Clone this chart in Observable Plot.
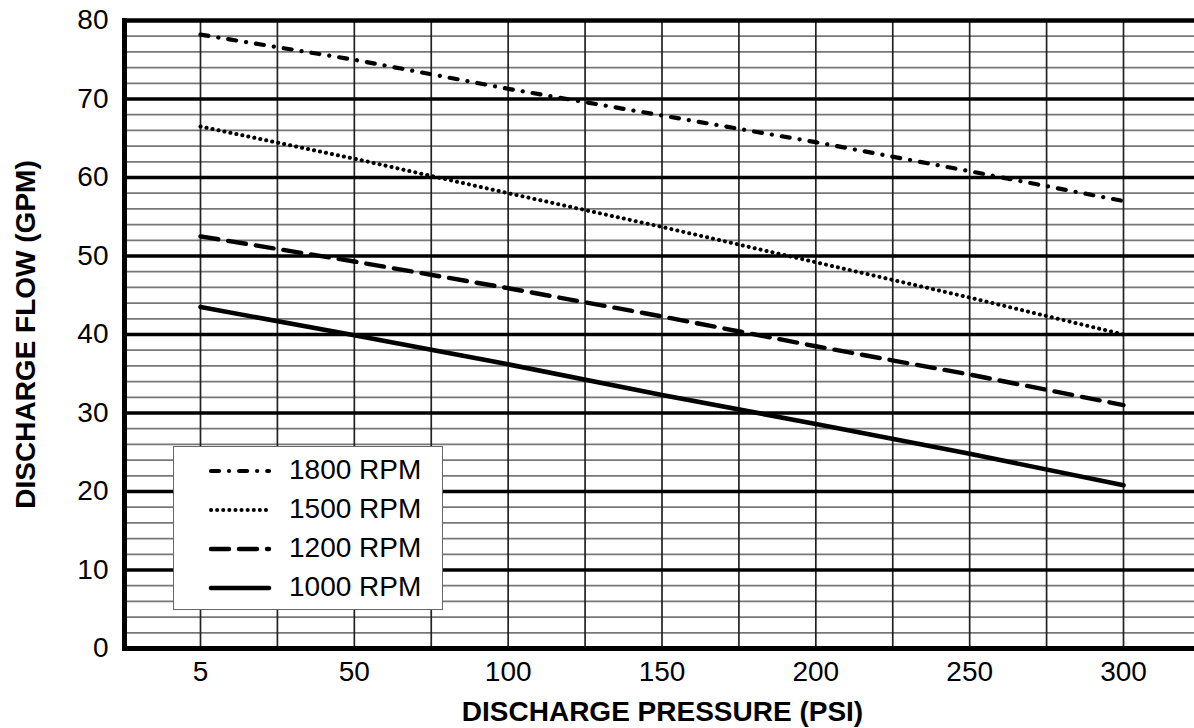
<!DOCTYPE html>
<html>
<head>
<meta charset="utf-8">
<script src="https://cdn.jsdelivr.net/npm/d3@7"></script>
<script src="https://cdn.jsdelivr.net/npm/@observablehq/plot@0.6"></script>
<style>
  html, body { margin: 0; padding: 0; background: #fff; }
  #wrap { position: relative; width: 1194px; height: 728px; font-family: "Liberation Sans", Arial, sans-serif; }
  #legend { position: absolute; left: 173px; top: 446px; width: 268px; height: 162px;
            border: 1.6px solid #666; background: #fff; }
  #legend .row { position: absolute; left: 0; height: 39px; width: 100%; }
  #legend svg { position: absolute; left: 30px; top: 0; }
  #legend span { position: absolute; left: 115px; top: 4px; font-size: 28px; line-height: 30px; color: #000; }
</style>
</head>
<body>
<div id="wrap"></div>
<script>
// ---- data ----
const pressure = [5, 50, 100, 150, 200, 250, 300];
const flow1800 = [78.2, 75.0, 71.3, 67.9, 64.5, 60.8, 57.0];
const flow1500 = [66.5, 62.4, 58.0, 53.7, 49.2, 44.7, 40.0];
const flow1200 = [52.5, 49.3, 45.9, 42.3, 38.5, 34.9, 31.0];
const flow1000 = [43.5, 39.9, 36.2, 32.3, 28.6, 24.8, 20.8];
const seriesLabels = ["1800 RPM", "1500 RPM", "1200 RPM", "1000 RPM"];
const xTicks = [5, 50, 100, 150, 200, 250, 300];
const yTicks = [0, 10, 20, 30, 40, 50, 60, 70, 80];
const xGrid = [5, 27.5, 50, 75, 100, 125, 150, 175, 200, 225, 250, 275, 300];

const styles = [
  {values: flow1800, dash: "8,10,0.1,10", width: 4.2},
  {values: flow1500, dash: "0.1,6", width: 4},
  {values: flow1200, dash: "18,10", width: 4.4},
  {values: flow1000, dash: null, width: 4.6}
];

const minorY = d3.range(2, 80, 2).filter(v => v % 10 !== 0);
const majorY = [10, 20, 30, 40, 50, 60, 70];

const font = "Liberation Sans, Arial, sans-serif";

// the pressure axis is evenly gridded: 5 -> 50 spans the same width as 50 -> 100
const pressureToGrid = p => p <= 50 ? (p - 5) / 22.5 : 2 + (p - 50) / 25;
const tickLabel = new Map(xTicks.map(t => [pressureToGrid(t), String(t)]));

const lineMarks = styles.map(s => Plot.line(
  pressure.map((p, i) => ({p, f: s.values[i]})),
  {x: "p", y: "f", stroke: "#000", strokeWidth: s.width,
   strokeDasharray: s.dash ?? undefined, strokeLinecap: "round", strokeLinejoin: "round"}
));

const chart = Plot.plot({
  width: 1194,
  height: 728,
  marginLeft: 124,
  marginRight: 0,
  marginTop: 20,
  marginBottom: 80,
  style: {fontFamily: font, background: "#fff", color: "#000"},
  x: {type: "linear", transform: pressureToGrid, domain: [-0.988, 12.923]},
  y: {domain: [0, 80]},
  marks: [
    Plot.ruleY(minorY, {stroke: "#777", strokeWidth: 1.8}),
    Plot.ruleX(xGrid, {stroke: "#222", strokeWidth: 1.7}),
    Plot.ruleY(majorY, {stroke: "#000", strokeWidth: 3.4}),
    Plot.ruleY([80], {stroke: "#000", strokeWidth: 4.5}),
    Plot.ruleY([0], {stroke: "#000", strokeWidth: 4.8}),
    Plot.frame({anchor: "left", stroke: "#000", strokeWidth: 5}),
    Plot.axisX({ticks: xTicks.map(pressureToGrid), tickSize: 0, tickPadding: 13, fontSize: 28, label: null,
                tickFormat: d => tickLabel.get(d) ?? ""}),
    Plot.axisY({ticks: yTicks, tickSize: 0, tickPadding: 16, fontSize: 28, label: null}),
    Plot.text(["DISCHARGE PRESSURE (PSI)"], {frameAnchor: "bottom", textAnchor: "middle", lineAnchor: "middle", dx: 3, dy: 64, fontSize: 28, fontWeight: "bold", fill: "#000"}),
    Plot.text(["DISCHARGE FLOW (GPM)"], {frameAnchor: "left", textAnchor: "middle", lineAnchor: "middle", dx: -98, rotate: -90, fontSize: 28, fontWeight: "bold", fill: "#000"}),
    ...lineMarks
  ]
});

const wrap = document.getElementById("wrap");
wrap.appendChild(chart);

// legend
const legend = document.createElement("div");
legend.id = "legend";
seriesLabels.forEach((lab, i) => {
  const row = document.createElement("div");
  row.className = "row";
  row.style.top = (4 + i * 39) + "px";
  const s = styles[i];
  const svg = d3.create("svg").attr("width", 70).attr("height", 39);
  svg.append("line").attr("x1", 7).attr("x2", 65).attr("y1", 20).attr("y2", 20)
    .attr("stroke", "#000").attr("stroke-width", s.width)
    .attr("stroke-linecap", "round")
    .attr("stroke-dasharray", s.dash);
  row.appendChild(svg.node());
  const span = document.createElement("span");
  span.textContent = lab;
  row.appendChild(span);
  legend.appendChild(row);
});
wrap.appendChild(legend);
</script>
</body>
</html>
